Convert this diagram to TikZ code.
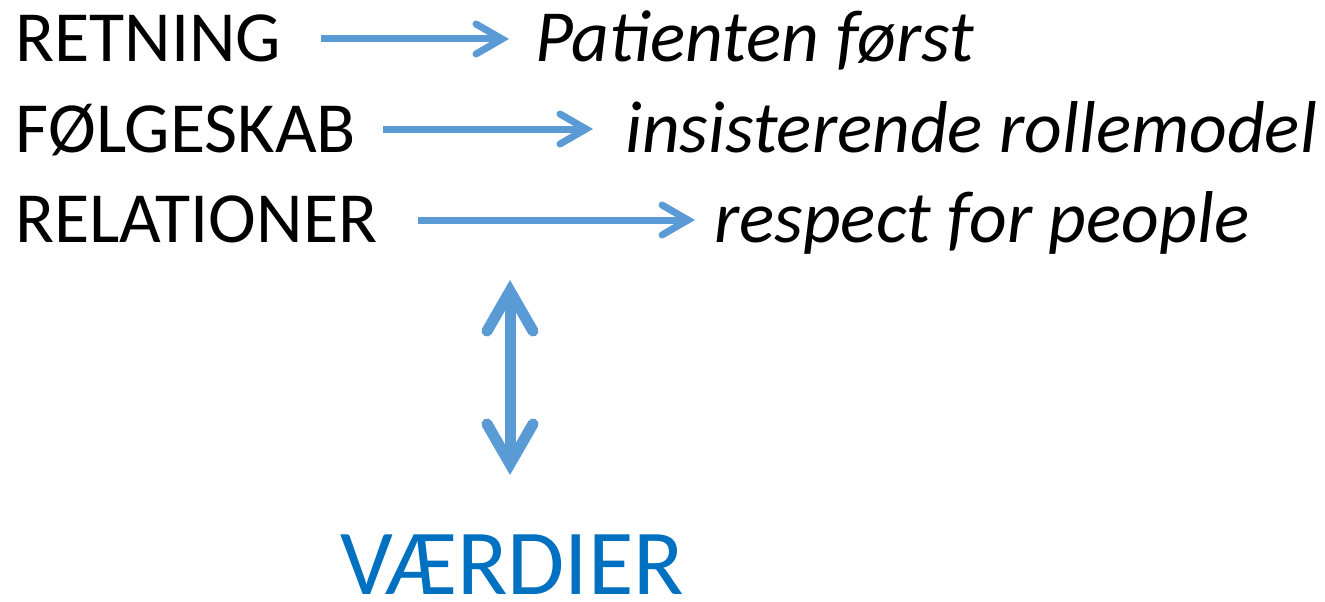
\documentclass[tikz,border=0pt]{standalone}
\usepackage{fontspec}
\setmainfont{Carlito}
\usetikzlibrary{arrows.meta}
\definecolor{arrowblue}{HTML}{5B9BD5}
\definecolor{textblue}{HTML}{0070C0}
\begin{document}
\begin{tikzpicture}[x=1pt,y=-1pt,
  lbl/.style={anchor=base west,inner sep=0pt,font=\fontsize{72}{80}\selectfont},
  val/.style={anchor=base west,inner sep=0pt,font=\fontsize{73.5}{80}\selectfont\itshape},
  hconn/.style={draw=arrowblue,line width=7pt,
    -{Straight Barb[length=26pt,width=30pt,line cap=round,line join=miter]}},
  vconn/.style={draw=arrowblue,line width=11pt,
    {Straight Barb[length=40pt,width=46pt,line cap=round,line join=miter]}-{Straight Barb[length=40pt,width=46pt,line cap=round,line join=miter]}}]
\useasboundingbox (0,0) rectangle (1325,602);
\node[lbl] (r1) at (15,62) {RETNING};
\node[lbl] (r2) at (15,152) {FØLGESKAB};
\node[lbl] (r3) at (15,242) {RELATIONER};
\node[val] (v1) at (535,62) {Patienten først};
\node[val] (v2) at (625,152) {insisterende rollemodel};
\node[val] (v3) at (714,242) {respect for people};
\node[anchor=base west,inner sep=0pt,text=textblue,font=\fontsize{93}{100}\selectfont] (vaerdier) at (340,594) {VÆRDIER};
\coordinate (a1s) at (321,39);
\coordinate (a1e) at (509,39);
\coordinate (a2s) at (383,129);
\coordinate (a2e) at (593,129);
\coordinate (a3s) at (418,220);
\coordinate (a3e) at (695,220);
\coordinate (ds) at (510,280);
\coordinate (de) at (510,475);
\draw[hconn] (a1s) -- (a1e);
\draw[hconn] (a2s) -- (a2e);
\draw[hconn] (a3s) -- (a3e);
\draw[vconn] (ds) -- (de);
\end{tikzpicture}
\end{document}
